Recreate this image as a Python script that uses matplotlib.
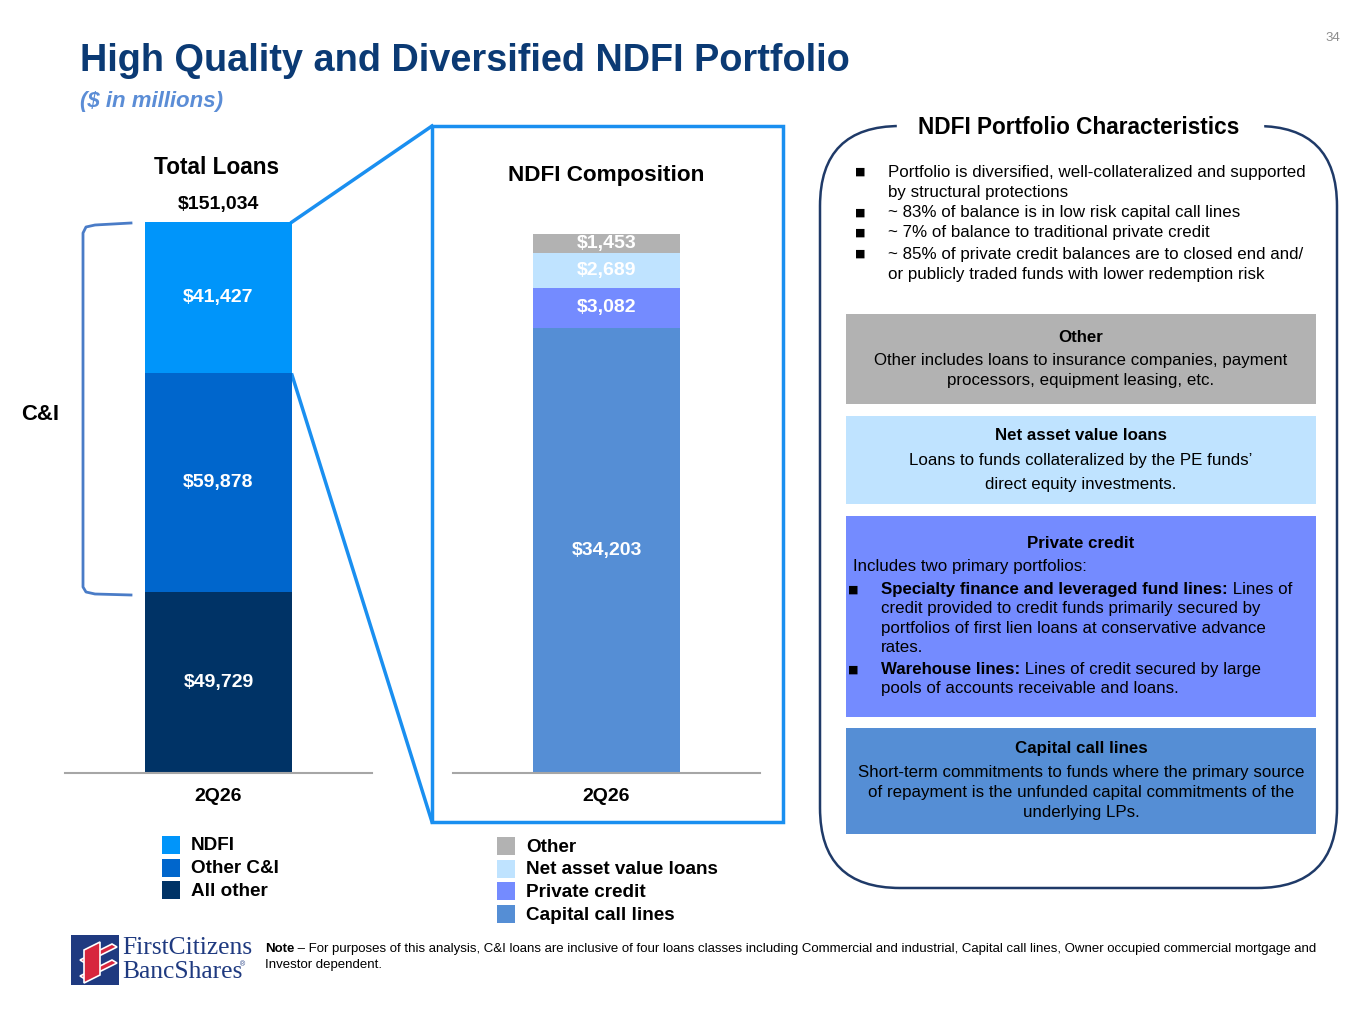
import matplotlib
matplotlib.use("Agg")
import matplotlib.pyplot as plt
from matplotlib.patches import Rectangle, FancyBboxPatch, Polygon

plt.rcParams['font.family'] = ['Liberation Sans', 'DejaVu Sans']

# data ($ in millions)
total_categories = ['All other', 'Other C&I', 'NDFI']
total_values = [49729, 59878, 41427]
total_colors = ['#003366', '#0066CC', '#0095FA']

ndfi_categories = ['Capital call lines', 'Private credit', 'Net asset value loans', 'Other']
ndfi_values = [34203, 3082, 2689, 1453]
ndfi_colors = ['#558ED5', '#748BFF', '#BFE3FF', '#B2B2B2']

period_labels = ['2Q26']

W, H = 1365, 1024
fig = plt.figure(figsize=(W / 100, H / 100), dpi=100)

# overlay axes in pixel coordinates (y down)
ov = fig.add_axes([0, 0, 1, 1], zorder=0)
ov.set_xlim(0, W)
ov.set_ylim(H, 0)
ov.axis('off')


def px_axes(x0, y0, x1, y1):
    return [x0 / W, 1 - y1 / H, (x1 - x0) / W, (y1 - y0) / H]


def stacked_bar(rect, values, colors):
    ax = fig.add_axes(rect, zorder=2)
    ax.patch.set_alpha(0)
    bottom = 0
    for v, c in zip(values, colors):
        ax.bar(0, v, bottom=bottom, width=0.96, color=c, edgecolor='none')
        ax.text(0, bottom + v / 2, f'${v:,}', ha='center', va='center', color='white',
                fontsize=14, fontweight='bold')
        bottom += v
    ax.set_xlim(-1, 1)
    ax.set_ylim(0, bottom)
    for s in ['top', 'right', 'left']:
        ax.spines[s].set_visible(False)
    ax.spines['bottom'].set_color('#A6A6A6')
    ax.spines['bottom'].set_linewidth(1.5)
    ax.set_yticks([])
    ax.set_xticks([0])
    ax.set_xticklabels(period_labels, fontsize=14, fontweight='bold')
    ax.tick_params(axis='x', length=0, pad=11)
    return ax


ax1 = stacked_bar(px_axes(65, 222, 372, 773), total_values, total_colors)
ax2 = stacked_bar(px_axes(453, 234, 760, 773), ndfi_values, ndfi_colors)

# titles
ov.text(80, 61, 'High Quality and Diversified NDFI Portfolio', fontsize=27.3, fontweight='bold',
        color='#0B3A74', va='center', ha='left')
ov.text(80, 101, '($ in millions)', fontsize=16, fontweight='bold', style='italic',
        color='#5B8DD6', va='center', ha='left')
ov.text(1333, 38, '34', fontsize=9.5, color='#8C8C8C', va='center', ha='center')

ov.text(217, 168, 'Total Loans', fontsize=16.3, fontweight='bold', va='center', ha='center')
ov.text(218, 204, f'${sum(total_values):,}', fontsize=14, fontweight='bold', va='center', ha='center')
ov.text(606, 175, 'NDFI Composition', fontsize=16.2, fontweight='bold', va='center', ha='center')

# C&I bracket
bc = '#4A7CC7'
ov.plot([131, 95, 86, 83, 83, 86, 95, 131], [223, 225, 227, 233, 587, 592, 594, 595], color=bc, lw=2,
        solid_joinstyle='round')
ov.text(40, 414, 'C&I', fontsize=15.8, fontweight='bold', va='center', ha='center')

# NDFI zoom box and connectors
zc = '#1A8FF0'
ov.add_patch(Rectangle((432, 126), 351, 696, fill=False, edgecolor=zc, lw=2.5))
ov.plot([292, 432], [222, 126], color=zc, lw=2.5)
ov.plot([292, 432], [375, 822], color=zc, lw=2.5)

# legends
def legend(x_sq, y0, labels, colors):
    for i, (lab, col) in enumerate(zip(labels, colors)):
        y = y0 + i * 22.7
        ov.add_patch(Rectangle((x_sq, y - 9), 18, 18, color=col, lw=0))
        ov.text(x_sq + 29, y + 1, lab, fontsize=13.6, fontweight='bold', va='center', ha='left')


legend(162, 845, total_categories[::-1], total_colors[::-1])
legend(497, 846, ndfi_categories[::-1], ndfi_colors[::-1])

# right panel frame
navy = '#1F3A68'
r = 80
ov.add_patch(FancyBboxPatch((820 + r, 126 + r), 517 - 2 * r, 762 - 2 * r,
                            boxstyle=f'round,pad={r}', fill=False, edgecolor=navy, lw=1.8))
ov.add_patch(Rectangle((897, 112), 366, 30, color='white', zorder=3))
ov.text(1079, 128, 'NDFI Portfolio Characteristics', fontsize=16.3, fontweight='bold',
        va='center', ha='center', zorder=4)

renderer = fig.canvas.get_renderer()
body = 12.2


def bullet(x, y):
    ov.text(x, y, '■', fontsize=8, va='center', ha='left', family='DejaVu Sans')


def mixed(x, y, bold, rest, size=body):
    # bold lead-in followed by regular text on a shared baseline
    yb = y + size * 0.36
    t = ov.text(x, yb, bold, fontsize=size, fontweight='bold', va='baseline', ha='left')
    w = t.get_window_extent(renderer).width
    ov.text(x + w, yb, rest, fontsize=size, va='baseline', ha='left')


top_lines = [
    (True, 'Portfolio is diversified, well-collateralized and supported', 172),
    (False, 'by structural protections', 192),
    (True, '~ 83% of balance is in low risk capital call lines', 213),
    (True, '~ 7% of balance to traditional private credit', 233),
    (True, '~ 85% of private credit balances are to closed end and/', 254),
    (False, 'or publicly traded funds with lower redemption risk', 274),
]
for has_bullet, txt, y in top_lines:
    if has_bullet:
        bullet(855, y)
    ov.text(888, y, txt, fontsize=body, va='center', ha='left')

bx0, bw = 846, 470
cx = bx0 + bw / 2
ov.add_patch(Rectangle((bx0, 314), bw, 90, color=ndfi_colors[3], lw=0))
ov.text(cx, 337, 'Other', fontsize=body, fontweight='bold', va='center', ha='center')
ov.text(cx, 361, 'Other includes loans to insurance companies, payment', fontsize=body, va='center', ha='center')
ov.text(cx, 381, 'processors, equipment leasing, etc.', fontsize=body, va='center', ha='center')

ov.add_patch(Rectangle((bx0, 416), bw, 88, color=ndfi_colors[2], lw=0))
ov.text(cx, 436, 'Net asset value loans', fontsize=body, fontweight='bold', va='center', ha='center')
ov.text(cx, 461, 'Loans to funds collateralized by the PE funds’', fontsize=body, va='center', ha='center')
ov.text(cx, 484, 'direct equity investments.', fontsize=body, va='center', ha='center')

ov.add_patch(Rectangle((bx0, 516), bw, 201, color=ndfi_colors[1], lw=0))
ov.text(cx, 544, 'Private credit', fontsize=body, fontweight='bold', va='center', ha='center')
ov.text(853, 566, 'Includes two primary portfolios:', fontsize=body, va='center', ha='left')
bullet(848, 590)
mixed(881, 590, 'Specialty finance and leveraged fund lines:', ' Lines of')
ov.text(881, 609, 'credit provided to credit funds primarily secured by', fontsize=body, va='center', ha='left')
ov.text(881, 628, 'portfolios of first lien loans at conservative advance', fontsize=body, va='center', ha='left')
ov.text(881, 647, 'rates.', fontsize=body, va='center', ha='left')
bullet(848, 670)
mixed(881, 670, 'Warehouse lines:', ' Lines of credit secured by large')
ov.text(881, 689, 'pools of accounts receivable and loans.', fontsize=body, va='center', ha='left')

ov.add_patch(Rectangle((bx0, 728), bw, 106, color=ndfi_colors[0], lw=0))
ov.text(cx, 749, 'Capital call lines', fontsize=body, fontweight='bold', va='center', ha='center')
ov.text(cx, 773, 'Short-term commitments to funds where the primary source', fontsize=body, va='center', ha='center')
ov.text(cx, 793, 'of repayment is the unfunded capital commitments of the', fontsize=body, va='center', ha='center')
ov.text(cx, 813, 'underlying LPs.', fontsize=body, va='center', ha='center')

# logo
ov.add_patch(Rectangle((71, 935), 48, 50, color='#1F3A80', lw=0))
for dy in (0, 16):
    ov.add_patch(Polygon([(80, 960 + dy), (112, 944 + dy), (117, 947 + dy), (85, 963 + dy)],
                         closed=True, facecolor='#D7263D', edgecolor='white', lw=1.2))
ov.add_patch(Polygon([(84, 950), (100, 942), (100, 975), (84, 983)], closed=True,
                     facecolor='#D7263D', edgecolor='white', lw=1.2))
ov.text(122, 948, 'FirstCitizens', fontsize=18.4, family='Liberation Serif', color='#1F3A80',
        va='center', ha='left')
ov.text(122, 972, 'BancShares', fontsize=18.4, family='Liberation Serif', color='#1F3A80',
        va='center', ha='left')
ov.text(240, 965, '®', fontsize=5, color='#1F3A80', va='center', ha='left')

# note
mixed(265, 949, 'Note', ' – For purposes of this analysis, C&I loans are inclusive of four loans classes including '
      'Commercial and industrial, Capital call lines, Owner occupied commercial mortgage and', size=9.5)
ov.text(265, 965, 'Investor dependent.', fontsize=9.5, va='center', ha='left')

fig.savefig('out.png', dpi=100)
